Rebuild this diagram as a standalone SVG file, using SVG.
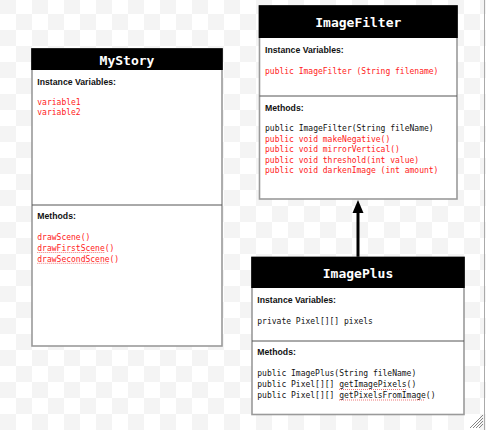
<svg xmlns="http://www.w3.org/2000/svg" width="486" height="430" viewBox="0 0 486 430">
<style>
.box{fill:#fff;stroke:#9a9a9a;stroke-width:1.6}
.hdr{fill:#000}
.div{stroke:#555;stroke-width:1}
.title{font-family:"DejaVu Sans Mono","Liberation Mono",monospace;font-size:13px;font-weight:bold;fill:#fff;text-anchor:middle}
.lbl{font-family:"Liberation Sans",Arial,sans-serif;font-size:8.7px;font-weight:bold;fill:#111}
.code{font-family:"DejaVu Sans Mono","Liberation Mono",monospace;font-size:8px;fill:#111}
.red{fill:#ff2020}
.sq{stroke:#e85050;stroke-width:0.8;stroke-dasharray:1 1;fill:none}
</style>
<defs>
<pattern id="chk" patternUnits="userSpaceOnUse" x="0" y="-2" width="32" height="32">
<rect width="32" height="32" fill="#fff"/>
<rect width="16" height="16" fill="#f4f4f4"/>
<rect x="16" y="16" width="16" height="16" fill="#f4f4f4"/>
</pattern>
</defs>
<rect width="486" height="430" fill="url(#chk)"/>
<line x1="484.5" y1="0" x2="484.5" y2="430" stroke="#aaa" stroke-width="1"/>
<g id="grip" stroke="#666" stroke-width="0.8">
<line x1="470" y1="428" x2="483" y2="415"/>
<line x1="473" y1="428" x2="483" y2="418"/>
<line x1="476" y1="428" x2="483" y2="421"/>
<line x1="479" y1="428" x2="483" y2="424"/>
</g>
<g id="connectors">
<line x1="358" y1="211" x2="358" y2="257" stroke="#000" stroke-width="3"/>
<polygon points="358,200 352.5,213 363.5,213" fill="#000"/>
</g>
<g id="MyStory">
<rect class="box" x="32" y="49" width="190" height="297"/>
<rect class="hdr" x="31.2" y="48.2" width="191.6" height="21.8"/>
<text class="title" x="127" y="65.3">MyStory</text>
<text class="lbl" x="37.3" y="85">Instance Variables:</text>
<text class="code red" x="37.3" y="105">variable1</text>
<text class="code red" x="37.3" y="115">variable2</text>
<line class="div" x1="32" y1="205" x2="222" y2="205"/>
<text class="lbl" x="37.3" y="218.5">Methods:</text>
<text class="code red" x="37.3" y="239.5">drawScene()</text>
<text class="code red" x="37.3" y="250.5">drawFirstScene()</text>
<text class="code red" x="37.3" y="261.5">drawSecondScene()</text>
<line class="sq" x1="37.3" y1="252.5" x2="104.5" y2="252.5"/>
<line class="sq" x1="37.3" y1="263.3" x2="109.3" y2="263.3"/>
</g>
<g id="ImageFilter">
<rect class="box" x="259.5" y="6" width="197.5" height="193"/>
<rect class="hdr" x="258.7" y="5.2" width="199.1" height="32.8"/>
<text class="title" x="358.3" y="27">ImageFilter</text>
<text class="lbl" x="265" y="52.5">Instance Variables:</text>
<text class="code red" x="265" y="73.5">public ImageFilter (String filename)</text>
<line class="div" x1="259.5" y1="96" x2="457" y2="96"/>
<text class="lbl" x="265" y="110.5">Methods:</text>
<text class="code" x="265" y="131">public ImageFilter(String fileName)</text>
<text class="code red" x="265" y="141.5">public void makeNegative()</text>
<text class="code red" x="265" y="152">public void mirrorVertical()</text>
<text class="code red" x="265" y="162.5">public void threshold(int value)</text>
<text class="code red" x="265" y="173">public void darkenImage (int amount)</text>
</g>
<g id="ImagePlus">
<rect class="box" x="252" y="257.5" width="212" height="157"/>
<rect class="hdr" x="251.2" y="256.7" width="213.6" height="31.3"/>
<text class="title" x="358" y="278">ImagePlus</text>
<text class="lbl" x="257.3" y="302.5">Instance Variables:</text>
<text class="code" x="257.3" y="323.5">private Pixel[][] pixels</text>
<line class="div" x1="252" y1="341" x2="464" y2="341"/>
<text class="lbl" x="257.3" y="355">Methods:</text>
<text class="code" x="257.3" y="376.3">public ImagePlus(String fileName)</text>
<text class="code" x="257.3" y="387">public Pixel[][] getImagePixels()</text>
<text class="code" x="257.3" y="397.5">public Pixel[][] getPixelsFromImage()</text>
<line class="sq" x1="339" y1="389.5" x2="406" y2="389.5"/>
<line class="sq" x1="339" y1="400" x2="425" y2="400"/>
</g>
</svg>
